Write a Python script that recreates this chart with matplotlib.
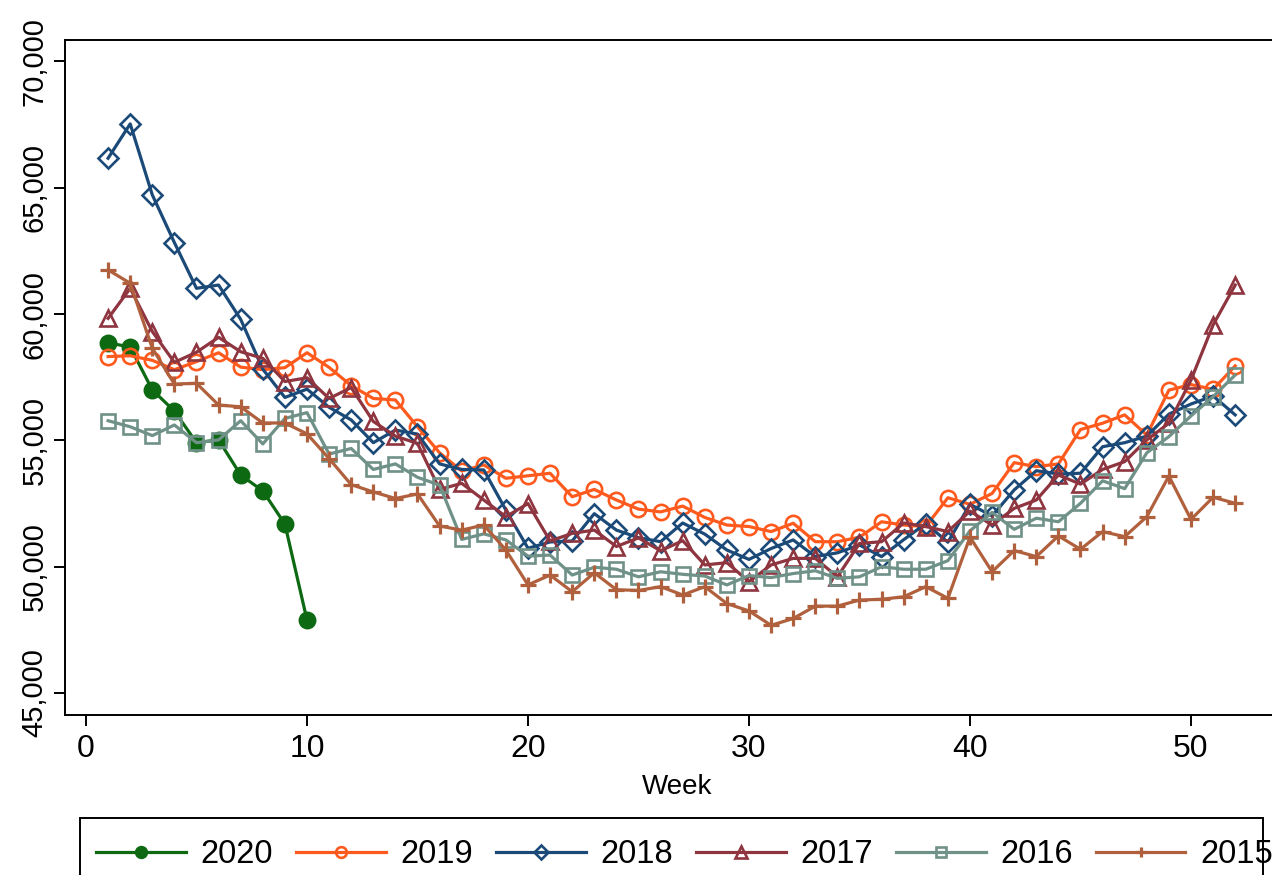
import matplotlib
matplotlib.use("Agg")
import matplotlib.pyplot as plt
from matplotlib.patches import Rectangle
from matplotlib.ticker import FuncFormatter

plt.rcParams['font.family'] = ['Liberation Sans', 'DejaVu Sans']

weeks_full = list(range(1, 53))
weeks_2020 = list(range(1, 11))

y2020 = [58860, 58700, 57000, 56160, 54910, 55020, 53630, 53000, 51690, 47890]

y2019 = [58320, 58350, 58170, 57800, 58120, 58470, 57900, 57800, 57880, 58470,
         57890, 57170, 56660, 56600, 55540, 54510, 53790, 54030, 53500, 53600,
         53700, 52770, 53060, 52640, 52280, 52170, 52400, 51950, 51650, 51590,
         51390, 51720, 50990, 50990, 51170, 51780, 51650, 51590, 52730, 52470,
         52900, 54120, 53960, 54070, 55430, 55680, 56010, 55210, 56990, 57210,
         57020, 57950]

y2018 = [66170, 67530, 64720, 62830, 61020, 61150, 59790, 57820, 56700, 57030,
         56310, 55810, 54910, 55410, 55250, 54070, 53850, 53830, 52240, 50730,
         50980, 51020, 52100, 51450, 51150, 50990, 51730, 51290, 50660, 50290,
         50720, 51060, 50400, 50550, 50860, 50400, 51070, 51710, 50970, 52470,
         52010, 53040, 53800, 53670, 53700, 54750, 54910, 55170, 56040, 56440,
         56760, 56010]

y2017 = [59830, 61020, 59310, 58090, 58490, 59080, 58510, 58250, 57330, 57480,
         56660, 57090, 55750, 55170, 54880, 53060, 53300, 52640, 51980, 52500,
         51020, 51320, 51450, 50800, 51140, 50630, 51030, 50070, 50160, 49410,
         50070, 50330, 50330, 49600, 50920, 50990, 51730, 51590, 51390, 52200,
         51650, 52310, 52640, 53630, 53270, 53850, 54160, 55020, 55680, 57390,
         59570, 61150]

y2016 = [55780, 55540, 55190, 55610, 54910, 55020, 55780, 54860, 55870, 56100,
         54460, 54680, 53850, 54070, 53540, 53230, 51080, 51300, 51060, 50420,
         50460, 49670, 49980, 49900, 49600, 49800, 49700, 49630, 49280, 49650,
         49570, 49730, 49840, 49540, 49600, 50000, 49900, 49900, 50240, 51420,
         52150, 51480, 51920, 51780, 52510, 53400, 53090, 54510, 55150, 55970,
         56730, 57590]

y2015 = [61750, 61220, 58650, 57230, 57260, 56400, 56330, 55690, 55690, 55260,
         54280, 53250, 52960, 52700, 52880, 51610, 51450, 51650, 50660, 49280,
         49670, 49010, 49760, 49090, 49060, 49210, 48880, 49210, 48540, 48250,
         47680, 47950, 48440, 48440, 48680, 48710, 48810, 49210, 48750, 51170,
         49800, 50640, 50400, 51220, 50690, 51390, 51190, 51980, 53590, 51870,
         52750, 52510]

x_ticks = [0, 10, 20, 30, 40, 50]
y_ticks = [45000, 50000, 55000, 60000, 65000, 70000]
x_label = "Week"

series = [
    ("2020", weeks_2020, y2020, "#0d6a12", "o", True, 11),
    ("2019", weeks_full, y2019, "#ff5a1e", "o", False, 11),
    ("2018", weeks_full, y2018, "#1b4a78", "D", False, 10),
    ("2017", weeks_full, y2017, "#8e3540", "^", False, 12),
    ("2016", weeks_full, y2016, "#6f9188", "s", False, 9.5),
    ("2015", weeks_full, y2015, "#b0603c", "+", False, 11),
]

W, H = 1272, 875
fig = plt.figure(figsize=(W / 100, H / 100), dpi=100)
ax_left, ax_right_px = 65, 1290
ax_top, ax_bot = 40, 715
ax = fig.add_axes([ax_left / W, 1 - ax_bot / H, (ax_right_px - ax_left) / W, (ax_bot - ax_top) / H])

px_per_week = 22.1
xmin = -0.95
xmax = xmin + (ax_right_px - ax_left) / px_per_week
ax.set_xlim(xmin, xmax)
ax.set_ylim(44130, 70850)

handles = []
for name, xs, ys, col, mk, filled, ms in series:
    ln, = ax.plot(xs, ys, color=col, lw=2.3, marker=mk, markersize=ms,
                  markerfacecolor=col if filled else "none",
                  markeredgecolor=col, markeredgewidth=1.9 if mk != "+" else 2.3,
                  label=name, zorder=3)
    handles.append(ln)

ax.set_xticks(x_ticks)
ax.set_yticks(y_ticks)
ax.yaxis.set_major_formatter(FuncFormatter(lambda v, p: f"{int(v):,}"))
for lab in ax.get_yticklabels():
    lab.set_rotation(90)
    lab.set_va("center")
ax.tick_params(axis='both', length=8, width=1.4, colors='black')
ax.tick_params(axis='x', labelsize=23, pad=6)
ax.tick_params(axis='y', labelsize=21, pad=4)
for s in ax.spines.values():
    s.set_linewidth(1.4)
ax.set_xlabel(x_label, fontsize=20, labelpad=7)

# legend frame drawn separately (box is narrower than content in the reference)
fig.patches.append(Rectangle((80 / W, 1 - 885 / H), (1263 - 80) / W, (885 - 818) / H,
                             transform=fig.transFigure, fill=False,
                             edgecolor='black', linewidth=1.4))
leg = fig.legend(handles=handles, loc='upper left',
                 bbox_to_anchor=(80 / W, 1 - 823 / H), ncol=6, fontsize=23.5,
                 frameon=False,
                 handlelength=2.75, handletextpad=0.45, columnspacing=0.7,
                 borderpad=0.5, borderaxespad=0)
for h, (_, _, _, _, mk, _, ms) in zip(leg.legend_handles, series):
    h.set_markersize(ms * 0.7)
    h.set_linewidth(2.3)

fig.savefig("out.png", dpi=100)
